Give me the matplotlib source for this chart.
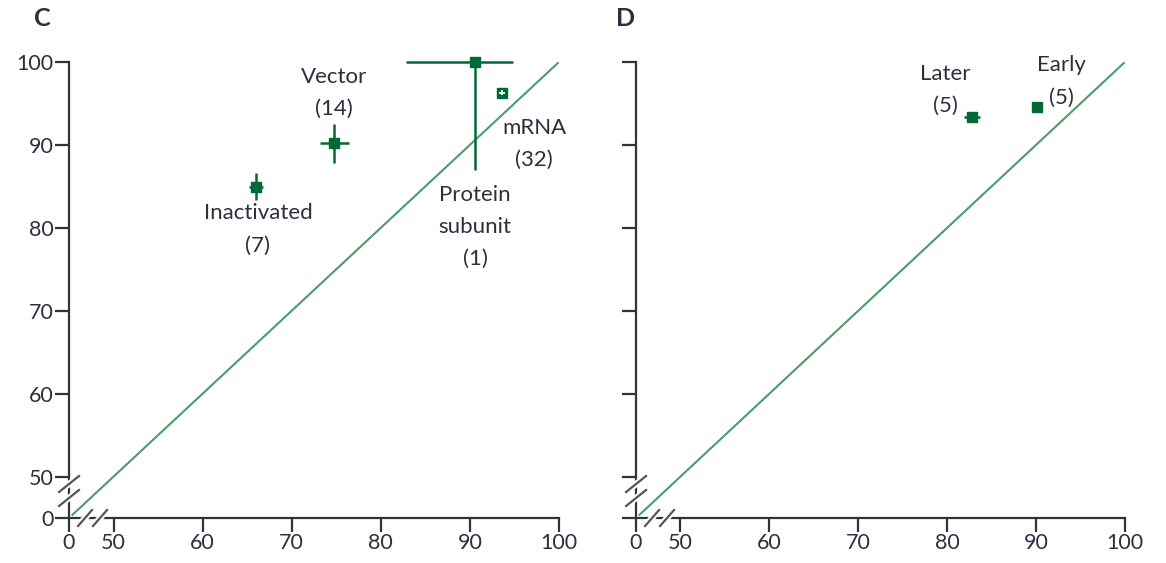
import matplotlib
matplotlib.use("Agg")
import matplotlib.pyplot as plt
import numpy as np
from matplotlib.lines import Line2D

plt.rcParams['font.family'] = ['Lato', 'DejaVu Sans']

# ---- data -------------------------------------------------------------
# Panel C: vaccine platforms
c_names = ["Inactivated", "Vector", "Protein\nsubunit", "mRNA"]
c_counts = [7, 14, 1, 32]
c_x = [66.0, 74.7, 90.6, 93.6]
c_y = [84.9, 90.2, 100.0, 96.3]
c_xerr_lo = [0.8, 1.5, 7.8, 0.3]
c_xerr_hi = [0.8, 1.7, 4.2, 0.3]
c_yerr_lo = [1.6, 2.4, 13.0, 0.3]
c_yerr_hi = [1.7, 2.3, 0.0, 0.3]

# Panel D: timing
d_names = ["Later", "Early"]
d_counts = [5, 5]
d_x = [82.8, 90.1]
d_y = [93.4, 94.6]
d_xerr = [0.9, 0.5]
d_yerr = [0.6, 0.4]

x_ticks = [0, 50, 60, 70, 80, 90, 100]
y_ticks = [0, 50, 60, 70, 80, 90, 100]

GREEN = "#006a37"
LINE_GREEN = "#4f9a6c"
TEXT = "#2e2e40"
SPINE = "#333333"
LABEL_SIZE = 16
TICK_SIZE = 15.5


# broken-axis scale: 0-50 compressed into a short stretch
def fwd(v):
    v = np.asarray(v, dtype=float)
    return np.where(v >= 50, v, 45 + v / 10.0)


def inv(v):
    v = np.asarray(v, dtype=float)
    return np.where(v >= 50, v, (v - 45) * 10.0)


fig = plt.figure(figsize=(11.66, 5.63), dpi=100)
ax_c = fig.add_axes([0.0592, 0.0799, 0.4202, 0.81])
ax_d = fig.add_axes([0.5455, 0.0799, 0.4193, 0.81])


def setup(ax, show_ylabels):
    ax.set_xscale('function', functions=(fwd, inv))
    ax.set_yscale('function', functions=(fwd, inv))
    ax.set_xlim(0, 100)
    ax.set_ylim(0, 100)
    ax.spines['top'].set_visible(False)
    ax.spines['right'].set_visible(False)
    for s in ('left', 'bottom'):
        ax.spines[s].set_color(SPINE)
        ax.spines[s].set_linewidth(1.6)
    ax.set_xticks(x_ticks)
    ax.set_yticks(y_ticks)
    ax.set_xticklabels([str(t) for t in x_ticks])
    if show_ylabels:
        ax.set_yticklabels([str(t) for t in y_ticks])
    else:
        ax.set_yticklabels([])
    ax.tick_params(axis='both', direction='out', length=10, width=1.6,
                   color=SPINE, labelcolor=TEXT, labelsize=TICK_SIZE, pad=1)
    ax.minorticks_off()
    ax.patch.set_alpha(0)
    # identity line
    ax.plot([3, 100], [3, 100], color=LINE_GREEN, lw=1.5, zorder=1,
            solid_capstyle='butt')
    # axis-break slashes
    tr = ax.transAxes
    bb = ax.get_position()
    figw, figh = fig.get_size_inches() * fig.dpi
    axw, axh = bb.width * figw, bb.height * figh
    for yc in (34.0, 20.0):
        dx, dy = 10 / axw, 8 / axh
        ax.add_line(Line2D([-dx, dx], [yc / axh - dy, yc / axh + dy],
                           transform=tr, color='white', lw=4.5, clip_on=False, zorder=5))
        ax.add_line(Line2D([-dx, dx], [yc / axh - dy, yc / axh + dy],
                           transform=tr, color='#555555', lw=1.6, clip_on=False, zorder=6))
    for xc in (16.0, 31.0):
        dx, dy = 7 / axw, 8 / axh
        ax.add_line(Line2D([xc / axw - dx, xc / axw + dx], [-dy, dy],
                           transform=tr, color='white', lw=4.5, clip_on=False, zorder=5))
        ax.add_line(Line2D([xc / axw - dx, xc / axw + dx], [-dy, dy],
                           transform=tr, color='#555555', lw=1.6, clip_on=False, zorder=6))


setup(ax_c, True)
setup(ax_d, False)

# ---- panel C -----------------------------------------------------------
for i in range(len(c_names)):
    hollow = c_names[i] == "mRNA"
    ax_c.errorbar(c_x[i], c_y[i],
                  xerr=[[c_xerr_lo[i]], [c_xerr_hi[i]]],
                  yerr=[[c_yerr_lo[i]], [c_yerr_hi[i]]],
                  fmt='s', ms=7.5, color=GREEN,
                  ecolor='white' if hollow else GREEN, elinewidth=1.3 if hollow else 1.8,
                  capsize=0, clip_on=False, zorder=4)
    if hollow:
        # white error bars drawn over the marker
        ax_c.errorbar(c_x[i], c_y[i],
                      xerr=[[c_xerr_lo[i]], [c_xerr_hi[i]]],
                      yerr=[[c_yerr_lo[i]], [c_yerr_hi[i]]],
                      fmt='none', ecolor='white', elinewidth=1.3, capsize=0, zorder=5)

c_label_pos = [(66.2, 79.8), (74.7, 96.3), (90.6, 80.1), (97.2, 90.1)]
for name, n, (lx, ly) in zip(c_names, c_counts, c_label_pos):
    ax_c.text(lx, ly, f"{name}\n({n})", ha='center', va='center', fontsize=LABEL_SIZE,
              color=TEXT, linespacing=1.75, zorder=6)

# ---- panel D -----------------------------------------------------------
ax_d.errorbar(d_x, d_y, xerr=d_xerr, yerr=d_yerr, fmt='s', ms=7.5, color=GREEN,
              ecolor=GREEN, elinewidth=1.8, capsize=0, zorder=4)
d_label_pos = [(79.8, 96.6), (92.9, 97.65)]
for name, n, (lx, ly) in zip(d_names, d_counts, d_label_pos):
    ax_d.text(lx, ly, f"{name}\n({n})", ha='center', va='center', fontsize=LABEL_SIZE,
              color=TEXT, linespacing=1.75, zorder=6)

# panel letters
fig.text(42 / 1166, 1 - 19 / 563, "C", ha='center', va='center', fontsize=18,
         fontweight='bold', color=TEXT)
fig.text(626 / 1166, 1 - 19 / 563, "D", ha='center', va='center', fontsize=18,
         fontweight='bold', color=TEXT)

fig.savefig("out.png", dpi=100, facecolor='white')
